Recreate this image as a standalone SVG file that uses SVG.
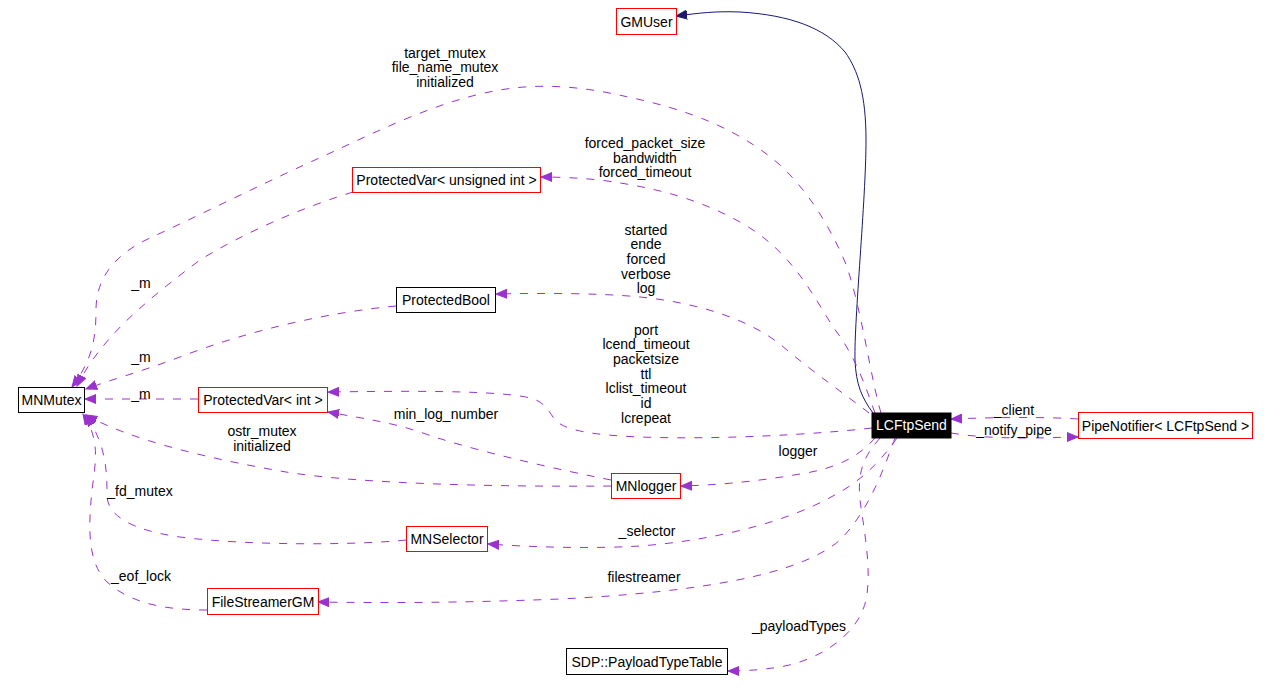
<svg xmlns="http://www.w3.org/2000/svg" width="1270" height="691" viewBox="0 0 1270 691">
<style>
text{font-family:"Liberation Sans",Arial,sans-serif;font-size:14px;fill:#000;text-anchor:middle}
.node rect{fill:#fff;stroke:#000;stroke-width:1}
.node rect.red{stroke:#ff0000}
.node rect.cur{fill:#000;stroke:#000}
.node text.cur{fill:#fff}
.use{fill:none;stroke:#9a32cd;stroke-width:1;stroke-dasharray:8,9;marker-end:url(#ap)}
.inh{fill:none;stroke:#191970;stroke-width:1;marker-end:url(#an)}
</style>
<defs>
<marker id="ap" viewBox="0 0 12 10" markerWidth="12" markerHeight="10" refX="11" refY="5" orient="auto" markerUnits="userSpaceOnUse"><path d="M0,0.5 L11,5 L0,9.5 z" fill="#9a32cd" stroke="#9a32cd"/></marker>
<marker id="an" viewBox="0 0 12 10" markerWidth="12" markerHeight="10" refX="11" refY="5" orient="auto" markerUnits="userSpaceOnUse"><path d="M0,0.5 L11,5 L0,9.5 z" fill="#191970" stroke="#191970"/></marker>
</defs>
<rect width="1270" height="691" fill="#fff"/>
<g id="connectors">
<path class="inh" d="M873,413 C862,398 856,385 855,360 C854,320 866,200 866,140 C866,95 858,70 845,52 C825,28 790,15 740,12 C715,11 700,13 676,16"/>
<path class="use" d="M881,413 C871,380 860,300 845,262 C828,222 805,188 780,165 C740,130 690,110 628,97 C590,88 545,82 500,90 C440,100 380,130 326,155 C270,180 200,215 150,238 C115,254 96,278 96,310 C96,340 92,360 72,387"/>
<path class="use" d="M353,192 C300,208 240,235 200,260 C160,290 130,315 110,338 C95,355 85,370 77,386"/>
<path class="use" d="M875,413 C865,385 855,355 833,327 C810,290 790,250 740,222 C700,200 660,188 600,180 C580,178 560,177 541,177"/>
<path class="use" d="M869,413 C850,398 810,370 781,345 C750,320 700,303 640,297 C600,293 540,293 496,294"/>
<path class="use" d="M396,306 C330,312 250,330 180,357 C140,372 110,380 86,389"/>
<path class="use" d="M198,399 L85,399"/>
<path class="use" d="M872,428 C820,434 720,440 640,437 C590,435 565,430 555,420 C548,410 545,402 530,398 C500,390 400,391 328,392"/>
<path class="use" d="M611,480 C560,470 470,450 420,432 C390,422 360,418 328,412"/>
<path class="use" d="M611,486 C500,487 360,484 286,472 C210,459 130,440 86,415"/>
<path class="use" d="M875,438 C860,455 840,468 800,474 C760,481 720,485 681,486"/>
<path class="use" d="M406,540 C360,545 250,546 180,537 C130,530 107,515 107,495 C107,470 106,445 86,415"/>
<path class="use" d="M207,610 C170,610 130,605 105,580 C88,560 88,530 92,490 C96,460 100,440 83,414"/>
<path class="use" d="M897,438 C885,455 865,480 831,497 C790,520 720,540 640,546 C590,549 530,547 488,544"/>
<path class="use" d="M895,438 C885,465 870,510 840,540 C800,575 700,592 560,599 C460,603 380,603 318,602"/>
<path class="use" d="M880,438 C865,455 857,470 860,500 C864,530 872,570 866,600 C858,635 820,660 780,667 C760,670 745,671 728,671"/>
<path class="use" d="M951,433 C975,437 1000,438 1030,438 C1050,438 1065,437 1078,437"/>
<path class="use" d="M1078,419 C1050,417 1000,417 951,419"/>
</g>
<g id="labels">
<text x="445" y="58">target_mutex</text>
<text x="445" y="72">file_name_mutex</text>
<text x="445" y="87">initialized</text>
<text x="645" y="148">forced_packet_size</text>
<text x="645" y="163">bandwidth</text>
<text x="645" y="177">forced_timeout</text>
<text x="646" y="235">started</text>
<text x="646" y="249">ende</text>
<text x="646" y="264">forced</text>
<text x="646" y="279">verbose</text>
<text x="646" y="293">log</text>
<text x="646" y="335">port</text>
<text x="646" y="349">lcend_timeout</text>
<text x="646" y="364">packetsize</text>
<text x="646" y="379">ttl</text>
<text x="646" y="393">lclist_timeout</text>
<text x="646" y="408">id</text>
<text x="646" y="423">lcrepeat</text>
<text x="141" y="288">_m</text>
<text x="141" y="362">_m</text>
<text x="141" y="399">_m</text>
<text x="446" y="419">min_log_number</text>
<text x="262" y="436">ostr_mutex</text>
<text x="262" y="451">initialized</text>
<text x="140" y="496">_fd_mutex</text>
<text x="141" y="581">_eof_lock</text>
<text x="798" y="456">logger</text>
<text x="647" y="536">_selector</text>
<text x="644" y="582">filestreamer</text>
<text x="799" y="631">_payloadTypes</text>
<text x="1014" y="415">_client</text>
<text x="1014" y="435">_notify_pipe</text>
</g>
<g id="GMUser" class="node"><rect class="red" x="616.5" y="8.5" width="60" height="26"/><text x="646.5" y="26.5">GMUser</text></g>
<g id="ProtectedVarUInt" class="node"><rect class="red" x="352.5" y="167.5" width="188" height="25"/><text x="446.5" y="185">ProtectedVar&lt; unsigned int &gt;</text></g>
<g id="ProtectedBool" class="node"><rect x="396.5" y="287.5" width="99" height="25"/><text x="446" y="305">ProtectedBool</text></g>
<g id="MNMutex" class="node"><rect x="18.5" y="387.5" width="66" height="25"/><text x="51.5" y="405">MNMutex</text></g>
<g id="ProtectedVarInt" class="node"><rect class="red" x="198.5" y="387.5" width="129" height="25"/><text x="263" y="405">ProtectedVar&lt; int &gt;</text></g>
<g id="LCFtpSend" class="node"><rect class="cur" x="872" y="413" width="79" height="25"/><text class="cur" x="911.5" y="430">LCFtpSend</text></g>
<g id="PipeNotifier" class="node"><rect class="red" x="1078.5" y="412.5" width="174" height="26"/><text x="1165.5" y="430.5">PipeNotifier&lt; LCFtpSend &gt;</text></g>
<g id="MNlogger" class="node"><rect class="red" x="611.5" y="473.5" width="69" height="25"/><text x="646" y="491">MNlogger</text></g>
<g id="MNSelector" class="node"><rect class="red" x="406.5" y="526.5" width="81" height="25"/><text x="447" y="544">MNSelector</text></g>
<g id="FileStreamerGM" class="node"><rect class="red" x="207.5" y="588.5" width="111" height="26"/><text x="263" y="606.5">FileStreamerGM</text></g>
<g id="PayloadTypeTable" class="node"><rect x="566.5" y="648.5" width="161" height="26"/><text x="647" y="666.5">SDP::PayloadTypeTable</text></g>
</svg>
